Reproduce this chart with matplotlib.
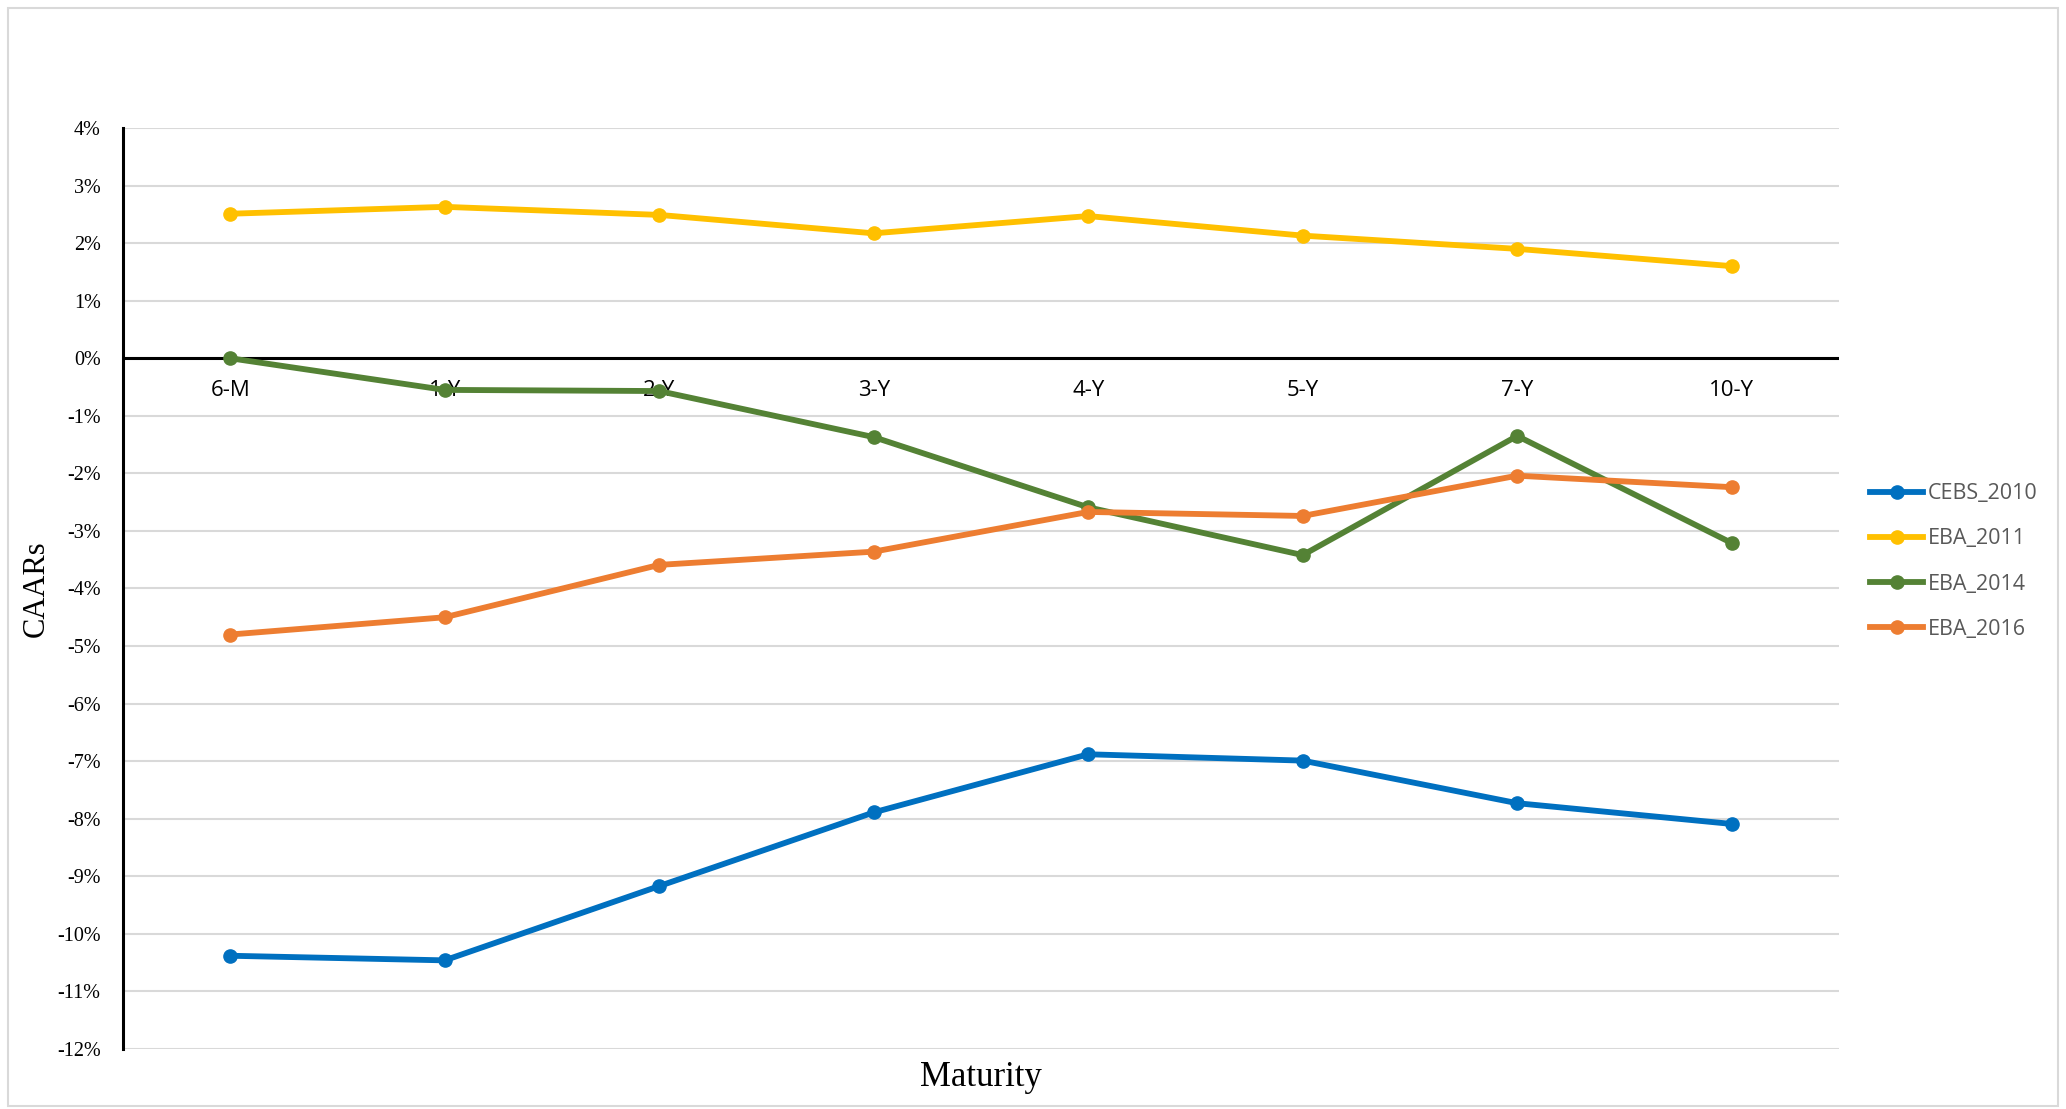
import matplotlib
matplotlib.use("Agg")
import matplotlib.pyplot as plt
from matplotlib.ticker import FuncFormatter, FixedLocator
from matplotlib.lines import Line2D
from matplotlib.patches import Rectangle

categories = ["6-M", "1-Y", "2-Y", "3-Y", "4-Y", "5-Y", "7-Y", "10-Y"]
cebs_2010 = [-10.38, -10.46, -9.17, -7.89, -6.88, -6.99, -7.73, -8.09]
eba_2011 = [2.51, 2.63, 2.49, 2.17, 2.47, 2.13, 1.90, 1.60]
eba_2014 = [0.0, -0.55, -0.57, -1.37, -2.59, -3.42, -1.35, -3.21]
eba_2016 = [-4.80, -4.50, -3.59, -3.36, -2.67, -2.74, -2.04, -2.24]
series_names = ["CEBS_2010", "EBA_2011", "EBA_2014", "EBA_2016"]
y_ticks = list(range(-12, 5))

colors = ["#0070C0", "#FFC000", "#548235", "#ED7D31"]
series = [cebs_2010, eba_2011, eba_2014, eba_2016]

LW = 4.2
MS = 9.5

fig = plt.figure(figsize=(20.66, 11.09), dpi=100)
ax = fig.add_axes([0.0595, 0.0541, 0.8306, 0.8305])

x = list(range(len(categories)))
for vals, c, name in zip(series, colors, series_names):
    ax.plot(x, vals, color=c, lw=LW, marker="o", ms=MS, label=name, zorder=3)

ax.set_xlim(-0.5, len(categories) - 0.5)
ax.set_ylim(-12, 4)
ax.yaxis.set_major_locator(FixedLocator(y_ticks))
ax.yaxis.set_major_formatter(FuncFormatter(lambda v, p: f"{v:.0f}%"))
ax.grid(axis="y", color="#D9D9D9", lw=1.5, zorder=0)
ax.set_xticks([])
for s in ["top", "right", "bottom"]:
    ax.spines[s].set_visible(False)
ax.spines["left"].set_linewidth(2.2)
ax.spines["left"].set_color("black")
ax.spines["left"].set_zorder(4)
ax.axhline(0, color="black", lw=2.2, zorder=2)
ax.tick_params(axis="y", length=0, pad=16, labelsize=14.5)
for lab in ax.get_yticklabels():
    lab.set_fontfamily("Liberation Serif")

for i, cat in enumerate(categories):
    ax.annotate(cat, (i, 0), xytext=(0, -23), textcoords="offset points",
                ha="center", va="center", fontsize=16,
                family=["Liberation Sans Narrow", "Open Sans", "DejaVu Sans"],
                color="black", zorder=1)

fig.text(981 / 2066, 1 - 1078 / 1109, "Maturity", ha="center", va="center",
         fontsize=25, family="Liberation Serif")
fig.text(36 / 2066, 1 - 589 / 1109, "CAARs", ha="center", va="center",
         rotation=90, fontsize=22, family="Liberation Serif")

handles = [Line2D([], [], color=c, lw=LW, marker="o", ms=MS) for c in colors]
leg = fig.legend(handles, series_names, loc="upper left",
                 bbox_to_anchor=(1851 / 2066, 1 - 464 / 1109), frameon=False,
                 handlelength=2.45, handletextpad=0.2, labelspacing=1.12,
                 prop={"family": ["Open Sans", "DejaVu Sans"], "size": 15.5})
for t in leg.get_texts():
    t.set_color("#595959")

fig.patches.append(Rectangle((0.004, 0.003), 0.992, 0.99, transform=fig.transFigure,
                             fill=False, edgecolor="#D9D9D9", lw=1.5))

fig.savefig("out.png", dpi=100)
